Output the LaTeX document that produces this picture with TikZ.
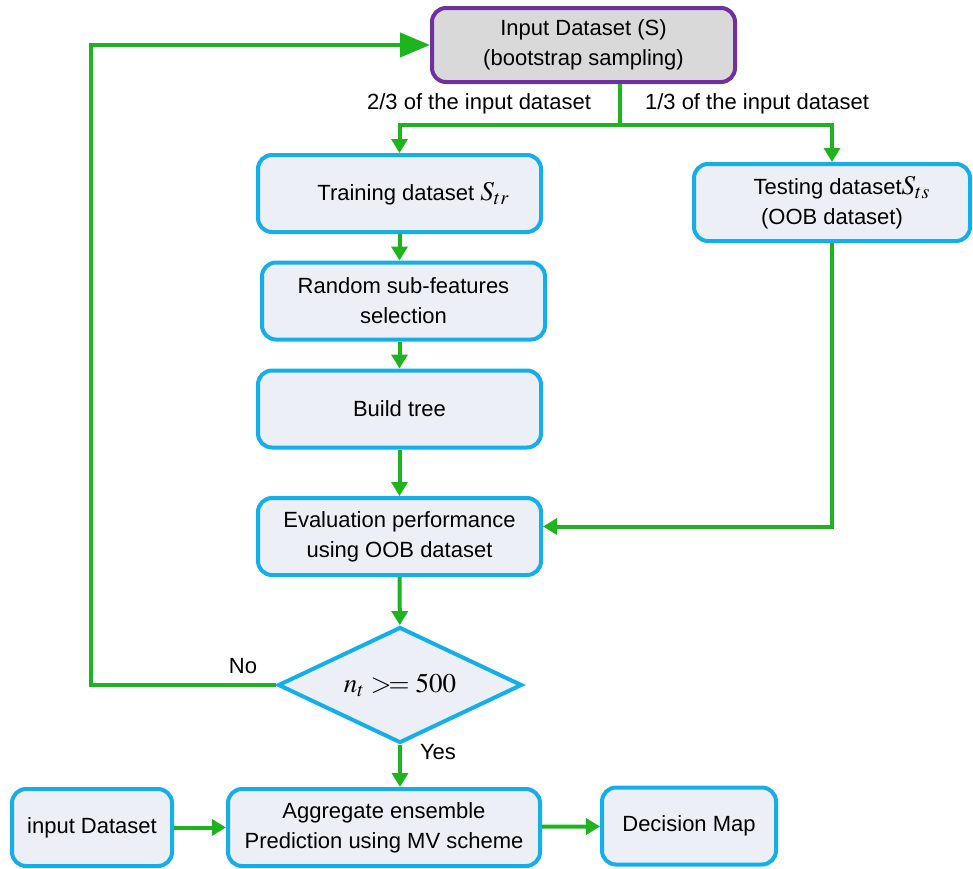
\documentclass[tikz,border=0pt]{standalone}
\usepackage{mathptmx}
\usepackage{fontspec}
\setmainfont{Liberation Sans}
\usetikzlibrary{arrows.meta, shapes.geometric}
\definecolor{flowgreen}{RGB}{30,180,30}
\definecolor{boxblue}{RGB}{20,175,235}
\definecolor{boxfill}{RGB}{236,239,246}
\definecolor{topline}{RGB}{112,48,160}
\definecolor{topfill}{RGB}{217,217,217}
\newcommand{\bigmath}[1]{{\fontsize{13.5}{15}\selectfont$#1$}}

\begin{document}
\begin{tikzpicture}[x=0.5pt, y=-0.5pt,
    every node/.style={font=\fontsize{11}{15}\selectfont, align=center},
    block/.style={draw=boxblue, fill=boxfill, line width=2pt, rounded corners=7pt,
      minimum width=141.5pt, minimum height=38.5pt, inner sep=2pt},
    topblock/.style={block, draw=topline, fill=topfill, minimum width=151.5pt, minimum height=37pt},
    decision/.style={diamond, draw=boxblue, fill=boxfill, line width=2pt,
      minimum width=122pt, minimum height=58pt, inner sep=0pt},
    line/.style={draw=flowgreen, line width=2pt},
    flow/.style={line, -{Triangle[length=7pt, width=8pt]}},
    bigflow/.style={line, -{Triangle[length=15pt, width=12pt]}}]
    \useasboundingbox (0,0) rectangle (973,868);

    % main column
    \node[topblock] (input) at (583.5,45) {Input Dataset (S)\\(bootstrap sampling)};
    \node[block] (train) at (399.5,193.5) {\hspace*{14pt}Training dataset \bigmath{S_{tr}}};
    \node[block] (test) at (832,202.5) [minimum width=138pt] {\hspace*{10pt}Testing dataset\bigmath{S_{ts}}\\(OOB dataset)};
    \node[block] (subfeat) at (403.5,301) {Random sub-features\\selection};
    \node[block] (tree) at (399.5,409) {Build tree};
    \node[block] (eval) at (399.5,536.5) {Evaluation performance\\using OOB dataset};
    \node[decision] (check) at (400,685) {};
    \node (cond) at (check) {\bigmath{n_t >\!= 500}};

    % bottom row
    \node[block] (data) at (92,827.5) [minimum width=80pt] {input Dataset};
    \node[block] (vote) at (384,827.5) [minimum width=156pt] {Aggregate ensemble\\Prediction using MV scheme};
    \node[block] (map) at (689,826) [minimum width=87pt] {Decision Map};

    % split of the input dataset
    \coordinate (split) at (620,125);
    \draw[line] (input.south -| split) -- (split);
    \draw[flow] (split) -| (train.north);
    \draw[flow] (split) -| (test.north);
    \node[anchor=east] (twothird) at (598,104) {2/3 of the input dataset};
    \node[anchor=west] (onethird) at (638,104) {1/3 of the input dataset};

    \draw[flow] (train) -- (train |- subfeat.north);
    \draw[flow] (subfeat.south -| train) -- (tree);
    \draw[flow] (tree) -- (eval);
    \draw[flow] (test.south) |- ([yshift=5pt]eval.east);
    \draw[flow] (eval) -- (check);

    % loop back
    \draw[bigflow] (check.west) -- ++(-185,0) |- (input.west);
    \node (no) at (243,666) {No};
    \draw[flow] (check.south) -- (check.south |- vote.north);
    \node (yes) at (438,752) {Yes};

    \draw[flow] (data) -- (vote);
    \draw[flow] (vote) -- (map);
\end{tikzpicture}
\end{document}
